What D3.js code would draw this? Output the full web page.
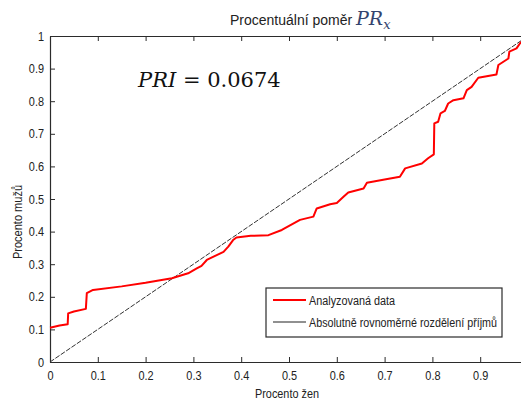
<!DOCTYPE html>
<html>
<head>
<meta charset="utf-8">
<script src="https://cdn.jsdelivr.net/npm/d3@7"></script>
<style>
  html, body { margin: 0; padding: 0; background: #fff; }
  svg { display: block; }
</style>
</head>
<body>
<div id="chart"></div>
<script>
// Lorenz-type curve: cumulative share of women (x) vs cumulative share of men (y)
const shareWomen = [0, 0.02, 0.037, 0.038, 0.05, 0.075, 0.077, 0.09, 0.15, 0.2, 0.255, 0.289,
  0.307, 0.317, 0.328, 0.363, 0.373, 0.383, 0.39, 0.42, 0.457, 0.485, 0.523, 0.551, 0.558,
  0.586, 0.6, 0.614, 0.624, 0.656, 0.663, 0.7, 0.732, 0.743, 0.778, 0.791, 0.803, 0.804,
  0.812, 0.817, 0.826, 0.833, 0.844, 0.865, 0.872, 0.882, 0.896, 0.934, 0.938, 0.959,
  0.961, 0.976, 0.983, 1];
const shareMen = [0.105, 0.112, 0.116, 0.149, 0.155, 0.163, 0.211, 0.221, 0.232, 0.243, 0.257, 0.272,
  0.287, 0.295, 0.313, 0.338, 0.354, 0.374, 0.382, 0.387, 0.389, 0.405, 0.436, 0.446, 0.471,
  0.484, 0.488, 0.507, 0.52, 0.532, 0.55, 0.56, 0.568, 0.594, 0.609, 0.625, 0.637, 0.732,
  0.737, 0.763, 0.77, 0.793, 0.803, 0.809, 0.834, 0.844, 0.872, 0.882, 0.911, 0.931,
  0.952, 0.962, 0.977, 1];

// Perfectly equal distribution (diagonal)
const equalX = [0, 1];
const equalY = [0, 1];

const xTicks = [0, 0.1, 0.2, 0.3, 0.4, 0.5, 0.6, 0.7, 0.8, 0.9, 1];
const xTickLabels = ["0", "0.1", "0.2", "0.3", "0.4", "0.5", "0.6", "0.7", "0.8", "0.9", ""];
const yTicks = [0, 0.1, 0.2, 0.3, 0.4, 0.5, 0.6, 0.7, 0.8, 0.9, 1];
const yTickLabels = ["0", "0.1", "0.2", "0.3", "0.4", "0.5", "0.6", "0.7", "0.8", "0.9", "1"];
const seriesNames = ["Analyzovaná data", "Absolutně rovnoměrné rozdělení příjmů"];
const pri = "0.0674";

const W = 521, H = 401;
const margin = { left: 50, top: 36, right: 528, bottom: 362 };

const svg = d3.select("#chart").append("svg")
  .attr("width", W).attr("height", H);

const x = d3.scaleLinear().domain([0, 1]).range([margin.left, margin.right]);
const y = d3.scaleLinear().domain([0, 1]).range([margin.bottom, margin.top]);

const axisColor = "#2b2b2b";
const sans = "'Liberation Sans', Arial, sans-serif";
const squeeze = 0.84; // narrow look of the axis lettering

// Axes: ticks point inward, like a boxed plot
const xAxis = svg.append("g")
  .attr("transform", `translate(0,${margin.bottom})`)
  .call(d3.axisBottom(x).tickValues(xTicks).tickFormat((d, i) => xTickLabels[i])
    .tickSizeInner(-5).tickSizeOuter(0).tickPadding(9));
const xTop = svg.append("g")
  .attr("transform", `translate(0,${margin.top})`)
  .call(d3.axisTop(x).tickValues(xTicks).tickFormat("").tickSizeInner(-5).tickSizeOuter(0));
const yAxis = svg.append("g")
  .attr("transform", `translate(${margin.left},0)`)
  .call(d3.axisLeft(y).tickValues(yTicks).tickFormat((d, i) => yTickLabels[i])
    .tickSizeInner(-5).tickSizeOuter(0).tickPadding(6));

[xAxis, xTop, yAxis].forEach(g => {
  g.select(".domain").attr("stroke", axisColor).attr("stroke-width", 1.2);
  g.selectAll(".tick line").attr("stroke", axisColor);
  g.selectAll(".tick text").attr("fill", "#222").attr("font-size", 13)
    .attr("font-family", sans);
});
xAxis.selectAll(".tick text").attr("transform", `scale(${squeeze},1)`);
yAxis.selectAll(".tick text")
  .attr("x", -6 / squeeze)
  .attr("transform", `scale(${squeeze},1)`);

const line = d3.line().x(d => x(d[0])).y(d => y(d[1]));

// Diagonal of equal distribution
svg.append("path")
  .datum(d3.zip(equalX, equalY))
  .attr("d", line)
  .attr("fill", "none")
  .attr("stroke", "#333")
  .attr("stroke-width", 1)
  .attr("stroke-dasharray", "5,1.5");

// Analysed data curve
svg.append("path")
  .datum(d3.zip(shareWomen, shareMen))
  .attr("d", line)
  .attr("fill", "none")
  .attr("stroke", "#ff0000")
  .attr("stroke-width", 2)
  .attr("stroke-linejoin", "round");

// Title
const title = svg.append("text")
  .attr("x", 230).attr("y", 25)
  .attr("font-family", sans)
  .attr("font-size", 14).attr("fill", "#222");
title.append("tspan").text("Procentuální poměr ");
title.append("tspan")
  .attr("font-family", "'DejaVu Serif', 'Liberation Serif', serif")
  .attr("font-style", "italic").attr("font-size", 19).attr("fill", "#34446e")
  .text("PR");
title.append("tspan")
  .attr("font-family", "'DejaVu Serif', 'Liberation Serif', serif")
  .attr("font-style", "italic").attr("font-size", 13).attr("fill", "#34446e")
  .attr("dy", 4)
  .text("x");

// Index annotation
const ann = svg.append("text")
  .attr("x", 138).attr("y", 87)
  .attr("font-family", "'DejaVu Serif', 'Liberation Serif', serif")
  .attr("font-size", 21).attr("fill", "#111");
ann.append("tspan").attr("font-style", "italic").text("PRI");
ann.append("tspan").text(" = " + pri);

// Axis labels
svg.append("text")
  .attr("x", 287).attr("y", 398)
  .attr("text-anchor", "middle")
  .attr("font-family", sans).attr("font-size", 13).attr("fill", "#222")
  .attr("textLength", 64).attr("lengthAdjust", "spacingAndGlyphs")
  .text("Procento žen");
svg.append("text")
  .attr("transform", "translate(22,222) rotate(-90)")
  .attr("text-anchor", "middle")
  .attr("font-family", sans).attr("font-size", 13).attr("fill", "#222")
  .attr("textLength", 74).attr("lengthAdjust", "spacingAndGlyphs")
  .text("Procento mužů");

// Legend
const lg = svg.append("g");
lg.append("rect")
  .attr("x", 266).attr("y", 288).attr("width", 236).attr("height", 49)
  .attr("fill", "#fff").attr("stroke", axisColor).attr("stroke-width", 1.2);
const legendColors = ["#ff0000", "#222"];
const legendWidths = [86, 188];
seriesNames.forEach((name, i) => {
  const ly = 300 + i * 22;
  lg.append("line")
    .attr("x1", 273).attr("x2", 306).attr("y1", ly).attr("y2", ly)
    .attr("stroke", legendColors[i]).attr("stroke-width", i === 0 ? 2 : 1.2);
  lg.append("text")
    .attr("x", 309).attr("y", ly + 4.5)
    .attr("font-family", sans).attr("font-size", 12).attr("fill", "#222")
    .attr("textLength", legendWidths[i]).attr("lengthAdjust", "spacingAndGlyphs")
    .text(name);
});
</script>
</body>
</html>
